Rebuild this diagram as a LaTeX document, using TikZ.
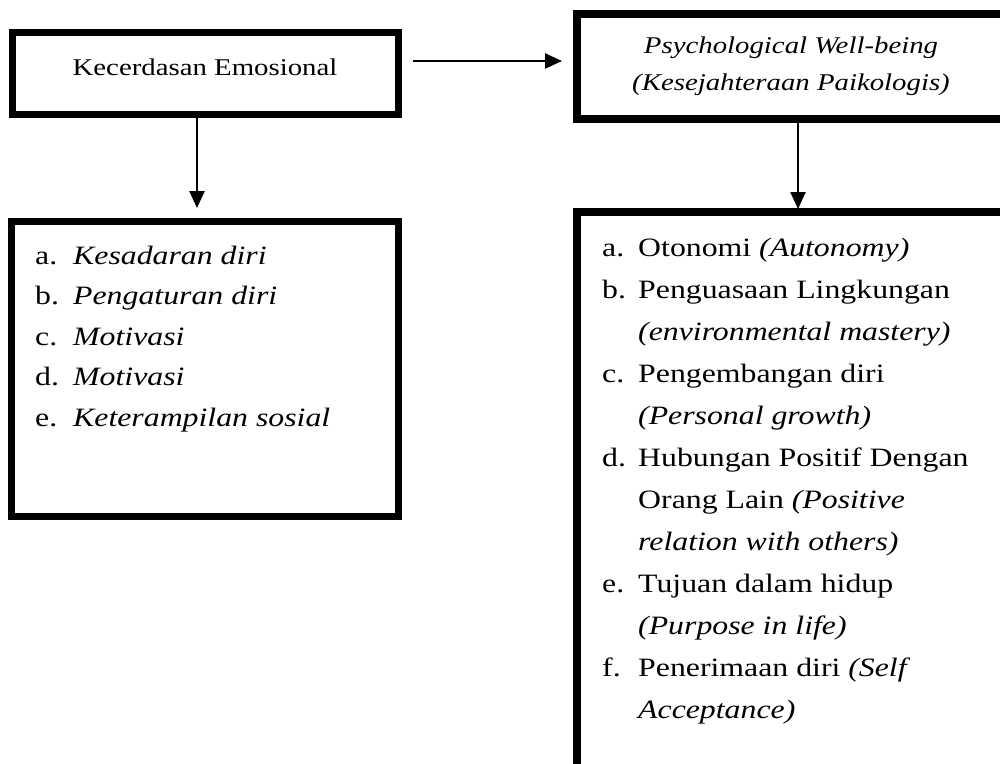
\documentclass[tikz,border=0pt]{standalone}
\usepackage{fontspec}
\setmainfont{Liberation Serif}[FakeStretch=1.2]
\usetikzlibrary{arrows.meta}
\begin{document}
\begin{tikzpicture}[x=1pt,y=-1pt,
  box/.style={draw=black, line width=7pt, inner sep=0pt, outer sep=0pt, anchor=north west},
  wbox/.style={box, line width=8pt},
  txt/.style={inner sep=0pt, font=\fontsize{26.5}{30}\selectfont, anchor=base west},
  ctxt/.style={inner sep=0pt, font=\fontsize{24}{28}\selectfont, anchor=base},
  arr/.style={line width=2.5pt, -{Triangle[length=17pt,width=15pt]}}
]
\useasboundingbox[fill=white] (0,0) rectangle (1000,763);

% boxes
\node[box, minimum width=386.5pt, minimum height=82.5pt] (k) at (12,32) {};
\node[box, minimum width=387pt, minimum height=295pt] (kl) at (11.5,221.5) {};
\node[wbox, minimum width=440pt, minimum height=105pt] (p) at (577,14) {};
\node[wbox, minimum width=440pt, minimum height=560pt] (pl) at (577,212) {};

% titles
\node[ctxt] (kt) at (205,75) {Kecerdasan Emosional};
\node[ctxt] (pt1) at (791,53) {\itshape Psychological Well-being};
\node[ctxt] (pt2) at (791,90) {\itshape (Kesejahteraan Paikologis)};

% connectors
\draw[arr, shorten <=14.5pt, shorten >=15pt]
  ([yshift=12.25pt]k.east) -- ([yshift=12.25pt]k.east -| p.west);
\draw[arr, shorten <=3.5pt, shorten >=13.5pt]
  ([xshift=-8.25pt]k.south) -- ([xshift=-8.25pt]k.south |- kl.north);
\draw[arr, shorten <=4pt, shorten >=3pt]
  ([xshift=221pt]p.south west) -- ([xshift=221pt]p.south west |- pl.north);

% left list
\node[txt] (la) at (35,264) {a.};  \node[txt] (ta) at (73,264) {\itshape Kesadaran diri};
\node[txt] (lb) at (35,304.5) {b.};  \node[txt] (tb) at (73,304.5) {\itshape Pengaturan diri};
\node[txt] (lc) at (35,345) {c.};  \node[txt] (tc) at (73,345) {\itshape Motivasi};
\node[txt] (ld) at (35,385.5) {d.};  \node[txt] (td) at (73,385.5) {\itshape Motivasi};
\node[txt] (le) at (35,426) {e.};  \node[txt] (te) at (73,426) {\itshape Keterampilan sosial};

% right list
\node[txt] (ra) at (602,256) {a.};  \node[txt] (ra1) at (638,256) {Otonomi \textit{(Autonomy)}};
\node[txt] (rb) at (602,298) {b.};  \node[txt] (rb1) at (638,298) {Penguasaan Lingkungan};
                                     \node[txt] (rb2) at (638,340) {\itshape (environmental mastery)};
\node[txt] (rc) at (602,382) {c.};  \node[txt] (rc1) at (638,382) {Pengembangan diri};
                                     \node[txt] (rc2) at (638,424) {\itshape (Personal growth)};
\node[txt] (rd) at (602,466) {d.};  \node[txt] (rd1) at (638,466) {Hubungan Positif Dengan};
                                     \node[txt] (rd2) at (638,508) {Orang Lain \textit{(Positive}};
                                     \node[txt] (rd3) at (638,550) {\itshape relation with others)};
\node[txt] (re) at (602,592) {e.};  \node[txt] (re1) at (638,592) {Tujuan dalam hidup};
                                     \node[txt] (re2) at (638,634) {\itshape (Purpose in life)};
\node[txt] (rf) at (602,676) {f.};  \node[txt] (rf1) at (638,676) {Penerimaan diri \textit{(Self}};
                                     \node[txt] (rf2) at (638,718) {\itshape Acceptance)};
\end{tikzpicture}
\end{document}
